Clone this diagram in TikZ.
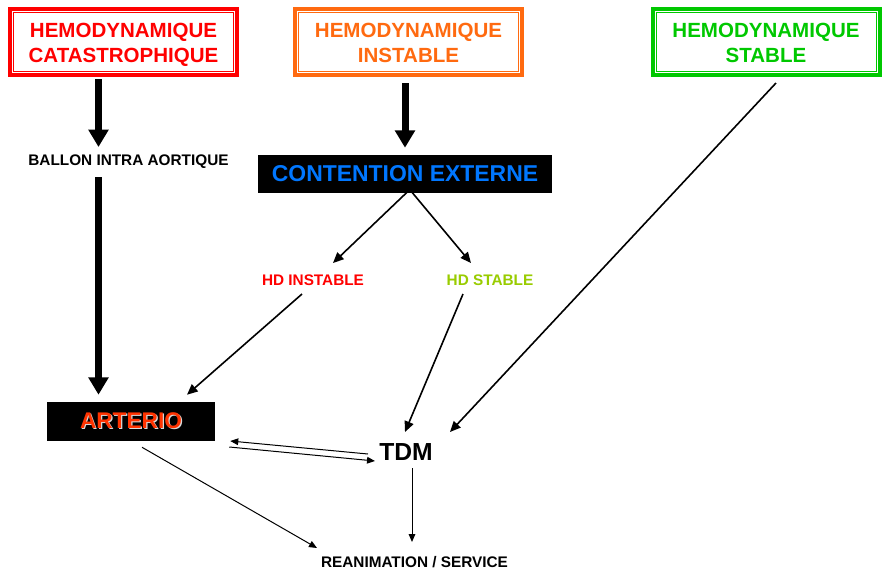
\documentclass[tikz,border=0pt]{standalone}
\usepackage{fontspec}
\setmainfont{Liberation Sans}
\usetikzlibrary{arrows.meta}
\definecolor{cred}{HTML}{FF0000}
\definecolor{corange}{HTML}{FF6A10}
\definecolor{cgreen}{HTML}{00C800}
\definecolor{cblue}{HTML}{0077FF}
\definecolor{clime}{HTML}{99CC00}
\definecolor{cart}{HTML}{FF3300}
\definecolor{cshadow}{HTML}{D8D8D8}
\newcommand\twolines[2]{\raisebox{-2.6pt}[\height][\depth]{\begin{tabular}{@{}c@{}}#1\\#2\end{tabular}}}
\begin{document}
\begin{tikzpicture}[x=0.75pt,y=-0.75pt,
  hemobox/.style={draw=#1, text=#1, line width=3pt, minimum width=170.25pt, minimum height=49.5pt,
    inner sep=0pt, font=\bfseries\fontsize{15.4pt}{18.75pt}\selectfont},
  blackbox/.style={fill=black, inner sep=0pt, align=center},
  smalltxt/.style={inner sep=0pt, font=\bfseries\fontsize{11.5pt}{13pt}\selectfont},
  thickarrow/.style={line width=5.25pt, -{Triangle[length=13pt,width=14.5pt]}},
  midarrow/.style={line width=1.2pt, -{Triangle[length=8pt,width=7pt]}},
  thinarrow/.style={line width=0.75pt, -{Triangle[length=6pt,width=5pt]}}
]
\useasboundingbox (0,0) rectangle (890,576);
\fill[white] (0,0) rectangle (890,576);

% top boxes
\node[hemobox=cred] (b1) at (123.5,42) {\twolines{HEMODYNAMIQUE}{CATASTROPHIQUE}};
\node[hemobox=corange] (b2) at (408.5,42) {\twolines{HEMODYNAMIQUE}{INSTABLE}};
\node[hemobox=cgreen] (b3) at (766,42) {\twolines{HEMODYNAMIQUE}{STABLE}};
\foreach \b/\c in {b1/cred,b2/corange,b3/cgreen}{
  \draw[\c, line width=0.75pt] ([shift={(5.5,5.5)}]\b.north west) rectangle ([shift={(-5.5,-5.5)}]\b.south east);
}

% texts
\node[smalltxt] (ballon) at (128.5,161.5) {BALLON INTRA AORTIQUE};
\node[blackbox, minimum width=220.5pt, minimum height=28.5pt, text=cblue,
  font=\bfseries\fontsize{17.2pt}{20pt}\selectfont] (cont) at (405,174) {CONTENTION EXTERNE};
\node[smalltxt, text=cred] (hdi) at (313,280) {HD INSTABLE};
\node[smalltxt, text=clime] (hds) at (490,280) {HD STABLE};
\node[blackbox, minimum width=126pt, minimum height=29.25pt,
  font=\bfseries\fontsize{17pt}{20pt}\selectfont] (art) at (131,421.5)
  {\makebox[0pt][l]{\hspace{0.9pt}\raisebox{-0.9pt}{\color{cshadow}ARTERIO}}\textcolor{cart}{ARTERIO}};
\node[inner sep=0pt, font=\bfseries\fontsize{18.5pt}{21pt}\selectfont] (tdm) at (406,452.5) {TDM};
\node[smalltxt] (rea) at (414.5,562.5) {REANIMATION / SERVICE};

% thick arrows
\draw[thickarrow] ([shift={(-25,2)}]b1.south) -- ([shift={(-30,-14.5)}]ballon.center);
\draw[thickarrow] ([shift={(-30,15.5)}]ballon.center) -- ([shift={(-32.5,-7)}]art.north);
\draw[thickarrow] ([shift={(-3.5,6)}]b2.south) -- ([shift={(0,-7)}]cont.north);

% medium arrows
\draw[midarrow] ([shift={(2,-1)}]cont.south) -- ([shift={(20,-17)}]hdi.center);
\draw[midarrow] ([shift={(7,-1)}]cont.south) -- ([shift={(-19,-17)}]hds.center);
\draw[midarrow] ([shift={(-11,14)}]hdi.center) -- ([shift={(56,-7)}]art.north);
\draw[midarrow] ([shift={(-27,14)}]hds.center) -- ([shift={(-1,-20.5)}]tdm.center);
\draw[midarrow] ([shift={(10,6)}]b3.south) -- ([shift={(44,-20.5)}]tdm.center);

% thin arrows
\draw[thinarrow] ([shift={(-38,1.5)}]tdm.center) -- ([shift={(15,19.5)}]art.east);
\draw[thinarrow] ([shift={(14,25.5)}]art.east) -- ([shift={(-31,8.5)}]tdm.center);
\draw[thinarrow] ([shift={(11,6)}]art.south) -- ([shift={(-97.5,-14.5)}]rea.center);
\draw[thinarrow] ([shift={(6,15.5)}]tdm.center) -- ([shift={(-2.5,-20.5)}]rea.center);
\end{tikzpicture}
\end{document}
